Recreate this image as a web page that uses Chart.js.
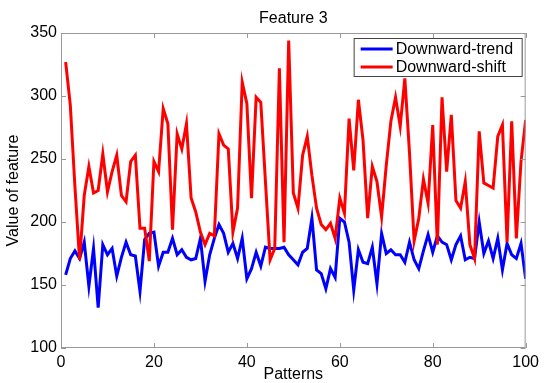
<!DOCTYPE html>
<html>
<head>
<meta charset="utf-8">
<script src="https://cdn.jsdelivr.net/npm/chart.js@4.4.1/dist/chart.umd.min.js"></script>
<style>
  html, body { margin: 0; padding: 0; background: #fff; }
  #wrap { width: 544px; height: 383px; }
</style>
</head>
<body>
<div id="wrap"><canvas id="chart" width="544" height="383"></canvas></div>
<script>
// Patterns 1..100
const patterns = [
  1, 2, 3, 4, 5, 6, 7, 8, 9, 10, 11, 12, 13, 14, 15, 16, 17, 18, 19, 20,
  21, 22, 23, 24, 25, 26, 27, 28, 29, 30, 31, 32, 33, 34, 35, 36, 37, 38, 39, 40,
  41, 42, 43, 44, 45, 46, 47, 48, 49, 50, 51, 52, 53, 54, 55, 56, 57, 58, 59, 60,
  61, 62, 63, 64, 65, 66, 67, 68, 69, 70, 71, 72, 73, 74, 75, 76, 77, 78, 79, 80,
  81, 82, 83, 84, 85, 86, 87, 88, 89, 90, 91, 92, 93, 94, 95, 96, 97, 98, 99, 100
];

const downwardTrend = [
  158, 171, 177, 171, 184, 149, 179, 132, 182, 174,
  179, 157, 172, 184, 174, 173, 145, 186, 191, 192,
  165, 176, 176, 187, 174, 178, 172, 170, 171, 187,
  153, 174, 187, 198, 191, 176, 183, 171, 187, 155,
  163, 176, 165, 180, 179, 179, 179, 180, 174, 170,
  166, 176, 179, 203, 162, 159, 147, 163, 156, 203,
  200, 184, 146, 178, 168, 167, 180, 151, 191, 175,
  178, 174, 174, 168, 184, 170, 163, 177, 190, 176,
  189, 184, 182, 170, 182, 189, 170, 172, 171, 200,
  175, 185, 171, 187, 162, 183, 174, 171, 183, 155
];

const downwardShift = [
  327, 293, 228, 170, 221, 244, 223, 225, 254, 224,
  240, 253, 221, 216, 248, 253, 195, 195, 169, 248,
  240, 290, 278, 194, 270, 258, 278, 219, 208, 192,
  182, 191, 189, 270, 261, 258, 192, 211, 311, 294,
  219, 299, 295, 232, 170, 179, 322, 184, 344, 223,
  211, 253, 268, 237, 211, 198, 194, 199, 187, 219,
  207, 282, 241, 297, 265, 203, 244, 232, 204, 245,
  280, 299, 276, 314, 255, 185, 203, 234, 215, 277,
  182, 299, 240, 285, 217, 211, 232, 182, 171, 272,
  231, 229, 227, 268, 277, 184, 280, 187, 248, 281
];

const xTicks = [0, 20, 40, 60, 80, 100];
const yTicks = [100, 150, 200, 250, 300, 350];

const FONT = 'Liberation Sans, Arial, Helvetica, sans-serif';

// --- PLUGINS ---

// Title centred over the plot box, like MATLAB does it
const plotTitlePlugin = {
  id: 'plotTitle',
  afterDraw(chart) {
    const { ctx, chartArea: a } = chart;
    ctx.save();
    ctx.font = '16px ' + FONT;
    ctx.fillStyle = '#000';
    ctx.textAlign = 'center';
    ctx.textBaseline = 'alphabetic';
    ctx.fillText('Feature 3', (a.left + a.right) / 2, 23);
    ctx.restore();
  }
};

// MATLAB style box with inward ticks
const boxPlugin = {
  id: 'box',
  afterDatasetsDraw(chart) {
    const { ctx, chartArea: a, scales } = chart;
    ctx.save();
    ctx.strokeStyle = '#999';
    ctx.lineWidth = 1;
    ctx.strokeRect(a.left + 0.5, a.top + 0.5, a.right - a.left - 1, a.bottom - a.top - 1);
    ctx.beginPath();
    const len = 5;
    xTicks.forEach(v => {
      const x = Math.round(scales.x.getPixelForValue(v)) + 0.5;
      ctx.moveTo(x, a.bottom); ctx.lineTo(x, a.bottom - len);
      ctx.moveTo(x, a.top); ctx.lineTo(x, a.top + len);
    });
    yTicks.forEach(v => {
      const y = Math.round(scales.y.getPixelForValue(v)) + 0.5;
      ctx.moveTo(a.left, y); ctx.lineTo(a.left + len, y);
      ctx.moveTo(a.right, y); ctx.lineTo(a.right - len, y);
    });
    ctx.stroke();
    ctx.restore();
  }
};

// Boxed legend in the top right corner of the plot
const legendBoxPlugin = {
  id: 'legendBox',
  afterDatasetsDraw(chart) {
    const { ctx, chartArea: a } = chart;
    const sets = chart.data.datasets;
    const w = 169, h = 39;
    const x0 = a.right - w - 3, y0 = a.top + 5;
    ctx.save();
    ctx.fillStyle = '#fff';
    ctx.fillRect(x0, y0, w, h);
    ctx.strokeStyle = '#444';
    ctx.lineWidth = 1;
    ctx.strokeRect(x0 + 0.5, y0 + 0.5, w - 1, h - 1);
    ctx.font = '16px ' + FONT;
    ctx.textBaseline = 'middle';
    ctx.fillStyle = '#000';
    sets.forEach((ds, i) => {
      const y = y0 + 11 + i * 18;
      ctx.strokeStyle = ds.borderColor;
      ctx.lineWidth = 3;
      ctx.beginPath();
      ctx.moveTo(x0 + 7, y); ctx.lineTo(x0 + 39, y);
      ctx.stroke();
      ctx.fillText(ds.label, x0 + 42, y + 1);
    });
    ctx.restore();
  }
};

new Chart(document.getElementById('chart'), {
  type: 'line',
  data: {
    labels: patterns,
    datasets: [
      {
        label: 'Downward-trend',
        data: downwardTrend,
        borderColor: '#0000ff',
        borderWidth: 3,
        pointRadius: 0,
        tension: 0,
        order: 1
      },
      {
        label: 'Downward-shift',
        data: downwardShift,
        borderColor: '#ff0000',
        borderWidth: 3,
        pointRadius: 0,
        tension: 0,
        order: 0
      }
    ]
  },
  options: {
    responsive: false,
    animation: false,
    layout: { padding: { left: 0, right: 16, top: 33, bottom: 0 } },
    plugins: {
      legend: { display: false },
      tooltip: { enabled: false },
      title: { display: false }
    },
    scales: {
      x: {
        type: 'linear',
        min: 0,
        max: 100,
        afterBuildTicks(scale) { scale.ticks = xTicks.map(v => ({ value: v })); },
        afterFit(scale) { scale.height = 35; },
        grid: { display: false, drawTicks: false },
        border: { display: false },
        ticks: {
          color: '#000',
          padding: 5,
          maxRotation: 0,
          font: { family: FONT, size: 16 }
        },
        title: {
          display: true,
          text: 'Patterns',
          color: '#000',
          font: { family: FONT, size: 16, lineHeight: 1 },
          padding: { top: 0, bottom: 0 }
        }
      },
      y: {
        type: 'linear',
        min: 100,
        max: 350,
        afterBuildTicks(scale) { scale.ticks = yTicks.map(v => ({ value: v })); },
        afterFit(scale) { scale.width = 61; },
        grid: { display: false, drawTicks: false },
        border: { display: false },
        ticks: {
          color: '#000',
          padding: 4,
          font: { family: FONT, size: 16 }
        },
        title: {
          display: true,
          text: 'Value of feature',
          color: '#000',
          font: { family: FONT, size: 16, lineHeight: 1.2 },
          padding: { top: 4, bottom: 0 }
        }
      }
    }
  },
  plugins: [boxPlugin, legendBoxPlugin, plotTitlePlugin]
});
</script>
</body>
</html>
